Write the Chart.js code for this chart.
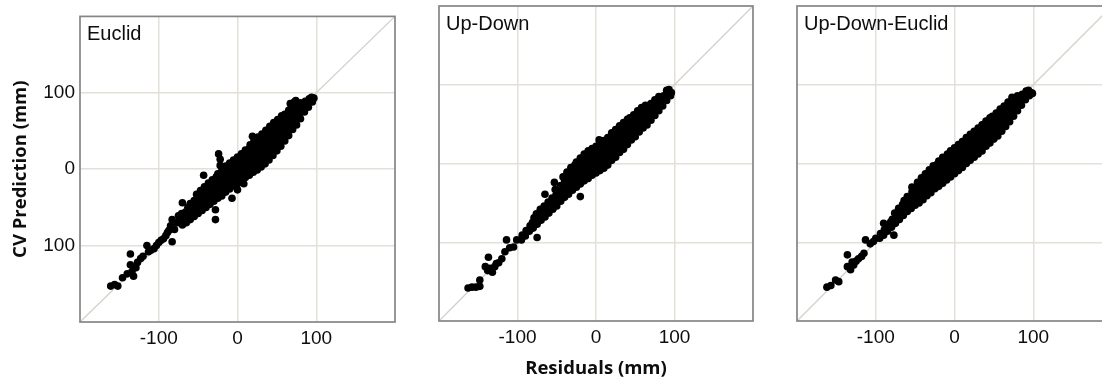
<!DOCTYPE html>
<html>
<head>
<meta charset="utf-8">
<script src="https://cdn.jsdelivr.net/npm/chart.js@4.4.1/dist/chart.umd.min.js"></script>
<style>
  html, body { margin: 0; padding: 0; background: #fff; }
  #wrap { position: relative; width: 1102px; height: 387px; overflow: hidden; }
  .panel { position: absolute; top: 0; }
</style>
</head>
<body>
<div id="wrap">
  <canvas id="c1" class="panel" width="400" height="387" style="left:0"></canvas>
  <canvas id="c2" class="panel" width="360" height="387" style="left:400px"></canvas>
  <canvas id="c3" class="panel" width="360" height="387" style="left:760px"></canvas>
</div>
<script>
// Axis range and ticks (mm)
const axisMin = -200;
const axisMax = 200;
const xTickValues = [-100, 0, 100];
const xTickLabels = ['-100', '0', '100'];
const yTickValues = [100, 0, -100];
const yTickLabels = ['100', '0', '100'];

// Identity reference line
const diagX = [-200, 200];
const diagY = [-200, 200];

const panelTitles = ['Euclid', 'Up-Down', 'Up-Down-Euclid'];
const xAxisTitle = 'Residuals (mm)';
const yAxisTitle = 'CV Prediction (mm)';

// Euclid: [residual, CV prediction]
const euclidPts = [
  [-161,-153],[-156,-151],[-152,-153],[-146,-142],[-140,-137],[-136,-111],[-136,-125],[-134,-134],
  [-132,-140],[-129,-129],[-127,-122],[-123,-117],[-120,-114],[-115,-100],[-113,-108],[-110,-106],
  [-106,-104],[-103,-100],[-100,-96],[-97,-93],[-94,-91],[-91,-87],[-89,-83],[-87,-80],[-85,-74],
  [-83,-66],[-83,-95],[-80,-79],[-77,-70],[-75,-61],[-73,-67],[-70,-44],
  [-70,-73],[-69,-66],[-71,-58],
  [-65,-70],[-64,-63],[-66,-56],[-63,-50],
  [-60,-66],[-61,-59],[-59,-52],[-60,-45],
  [-55,-62],[-56,-55],[-54,-48],[-55,-41],
  [-50,-58],[-51,-51],[-49,-44],[-50,-37],[-52,-33],
  [-45,-54],[-46,-47],[-44,-40],[-45,-33],[-47,-28],[-43,-8],
  [-40,-50],[-41,-43],[-39,-36],[-40,-29],[-42,-23],
  [-35,-46],[-36,-39],[-34,-32],[-35,-25],[-37,-18],
  [-30,-42],[-31,-35],[-29,-28],[-30,-21],[-32,-14],[-28,-53],[-28,-66],
  [-25,-38],[-26,-31],[-24,-24],[-25,-17],[-27,-10],[-25,-6],[-24,20],[-22,13],[-22,5],
  [-20,-35],[-21,-28],[-19,-21],[-20,-14],[-22,-7],[-20,-2],
  [-15,-30],[-16,-23],[-14,-16],[-15,-9],[-17,-2],[-15,4],
  [-10,-26],[-11,-19],[-9,-12],[-10,-5],[-12,2],[-10,8],
  [-5,-22],[-6,-15],[-4,-8],[-5,-1],[-7,6],[-5,12],[-7,-38],
  [0,-19],[-1,-12],[1,-5],[0,2],[-2,9],[0,16],[0,-27],
  [5,-15],[4,-8],[6,-1],[5,6],[3,13],[5,20],[8,-19],
  [10,-11],[9,-4],[11,3],[10,10],[8,17],[10,25],
  [15,-8],[14,-1],[16,6],[15,13],[13,20],[15,27],[16,32],
  [20,-4],[19,3],[21,10],[20,17],[18,24],[20,31],[21,38],[19,43],
  [25,-1],[24,6],[26,13],[25,20],[23,27],[25,34],[26,42],
  [30,3],[29,10],[31,17],[30,24],[28,31],[30,38],[31,46],
  [35,7],[34,14],[36,21],[35,28],[33,35],[35,42],[36,51],
  [40,12],[39,19],[41,26],[40,33],[38,40],[40,47],[41,56],
  [45,18],[44,25],[46,32],[45,39],[43,46],[45,53],[46,61],
  [50,24],[49,31],[51,38],[50,45],[48,52],[50,59],[51,65],
  [55,30],[54,37],[56,44],[55,51],[53,58],[55,65],[56,70],
  [60,37],[59,44],[61,51],[60,58],[58,65],[60,72],
  [65,44],[64,51],[66,58],[65,65],[63,72],[65,77],[67,86],
  [70,52],[69,59],[71,66],[70,73],[68,80],[72,88],[74,90],
  [75,58],[74,65],[76,72],[75,79],[73,85],
  [80,66],[79,73],[81,80],[80,87],
  [85,75],[84,82],[86,89],
  [90,81],[89,87],[91,92],
  [95,88],[97,93],[94,94]
];

// Up-Down: [residual, CV prediction]
const upDownPts = [
  [-163,-158],[-158,-157],[-153,-157],[-148,-156],[-148,-148],[-137,-119],[-141,-131],[-138,-136],
  [-135,-133],[-132,-138],[-129,-131],[-127,-127],[-124,-126],[-120,-121],[-116,-112],[-114,-97],
  [-110,-107],[-105,-106],[-101,-97],[-75,-94],
  [-95,-97],[-94,-91],
  [-90,-92],[-89,-85],
  [-85,-86],[-84,-79],
  [-80,-82],[-81,-75],[-79,-69],
  [-75,-77],[-74,-70],[-76,-64],
  [-70,-72],[-69,-65],[-71,-58],
  [-65,-68],[-64,-61],[-66,-54],[-65,-39],
  [-60,-63],[-59,-56],[-61,-49],
  [-55,-58],[-54,-51],[-56,-44],
  [-50,-54],[-49,-47],[-51,-40],[-52,-33],[-53,-24],
  [-45,-48],[-44,-41],[-46,-34],[-45,-28],
  [-40,-43],[-39,-36],[-41,-29],[-40,-22],[-42,-17],
  [-35,-39],[-34,-32],[-36,-25],[-35,-18],[-37,-11],
  [-30,-34],[-29,-27],[-31,-20],[-30,-13],[-32,-5],
  [-25,-30],[-24,-23],[-26,-16],[-25,-9],[-27,-2],[-25,2],
  [-20,-26],[-19,-19],[-21,-12],[-20,-5],[-22,2],[-20,7],[-20,-42],
  [-15,-22],[-14,-15],[-16,-8],[-15,-1],[-17,6],[-15,12],
  [-10,-19],[-9,-12],[-11,-5],[-10,2],[-12,9],[-10,16],
  [-5,-15],[-4,-8],[-6,-1],[-5,6],[-7,13],[-5,19],
  [0,-12],[1,-5],[-1,2],[0,9],[2,16],[0,22],[4,30],
  [5,-9],[4,-2],[6,5],[5,12],[3,19],[5,26],
  [10,-6],[9,1],[11,8],[10,15],[8,22],[10,29],
  [15,-2],[14,5],[16,12],[15,19],[13,26],[15,33],
  [20,4],[19,11],[21,18],[20,25],[18,32],[20,39],
  [25,8],[24,15],[26,22],[25,29],[23,36],[25,43],
  [30,14],[29,21],[31,28],[30,35],[28,42],[30,48],
  [35,18],[34,25],[36,32],[35,39],[33,46],[35,52],
  [40,24],[39,31],[41,38],[40,45],[38,52],[40,56],
  [45,30],[44,37],[46,44],[45,51],[43,58],
  [50,34],[49,41],[51,48],[50,55],[48,62],
  [55,40],[54,47],[56,54],[55,61],[53,67],
  [60,45],[59,52],[61,59],[60,66],[58,71],
  [65,49],[64,56],[66,63],[65,70],[63,74],
  [70,55],[69,62],[71,69],[70,76],
  [75,61],[74,68],[76,75],[75,81],
  [80,67],[79,74],[81,80],[80,85],
  [85,73],[84,80],[86,86],
  [90,80],[89,86],[90,93],
  [95,86],[96,90],[93,94]
];

// Up-Down-Euclid: [residual, CV prediction]
const upDownEuclidPts = [
  [-162,-157],[-157,-155],[-151,-148],[-147,-150],[-136,-116],[-136,-131],[-132,-135],[-130,-125],
  [-128,-129],[-125,-124],[-122,-121],[-118,-118],[-115,-114],[-113,-97],[-107,-102],[-103,-99],
  [-100,-95],[-77,-91],
  [-95,-95],[-94,-89],
  [-90,-91],[-89,-84],[-90,-76],
  [-85,-86],[-84,-79],
  [-80,-81],[-81,-74],[-79,-71],
  [-75,-76],[-74,-69],[-76,-63],
  [-70,-71],[-69,-64],[-71,-57],
  [-65,-66],[-64,-59],[-66,-52],[-64,-47],
  [-60,-61],[-59,-54],[-61,-47],[-60,-42],
  [-55,-57],[-54,-50],[-56,-43],[-54,-36],[-54,-30],
  [-50,-53],[-49,-46],[-51,-39],[-50,-32],
  [-45,-50],[-44,-43],[-46,-36],[-45,-29],[-47,-24],
  [-40,-46],[-39,-39],[-41,-32],[-40,-25],[-42,-18],
  [-35,-41],[-34,-34],[-36,-27],[-35,-20],[-37,-13],
  [-30,-37],[-29,-30],[-31,-23],[-30,-16],[-32,-8],
  [-25,-32],[-24,-25],[-26,-18],[-25,-11],[-27,-3],
  [-20,-29],[-19,-22],[-21,-15],[-20,-8],[-22,-1],[-20,3],
  [-15,-25],[-14,-18],[-16,-11],[-15,-4],[-17,3],[-15,8],
  [-10,-21],[-9,-14],[-11,-7],[-10,0],[-12,7],[-9,12],
  [-5,-17],[-4,-10],[-6,-3],[-5,4],[-7,11],[-5,16],
  [0,-13],[1,-6],[-1,1],[0,8],[2,15],[0,20],
  [5,-9],[4,-2],[6,5],[5,12],[3,19],[5,24],
  [10,-5],[9,2],[11,9],[10,16],[8,23],[10,28],
  [15,0],[14,7],[16,14],[15,21],[13,28],[15,33],
  [20,4],[19,11],[21,18],[20,25],[18,32],[20,37],
  [25,8],[24,15],[26,22],[25,29],[23,36],[25,41],
  [30,12],[29,19],[31,26],[30,33],[28,40],[30,45],
  [35,16],[34,23],[36,30],[35,37],[33,44],[35,49],
  [40,22],[39,29],[41,36],[40,43],[38,50],[40,54],
  [45,26],[44,33],[46,40],[45,47],[43,54],[45,58],
  [50,31],[49,38],[51,45],[50,52],[48,60],
  [55,35],[54,42],[56,49],[55,56],[53,64],
  [60,41],[59,48],[61,55],[60,62],[58,69],
  [65,47],[64,54],[66,61],[65,68],[63,73],
  [70,53],[69,60],[71,67],[70,74],[68,78],
  [75,60],[74,67],[76,74],[75,81],[73,84],
  [80,67],[79,74],[81,81],[80,86],
  [85,74],[84,81],[86,88],
  [90,81],[89,87],[91,92],
  [95,86],[97,90],[94,93],[99,89]
];

const GRID = '#e3e0da';
const FRAME = '#858585';
const DIAG = '#d5d1ca';
const TEXT = '#0d0d0d';
const tickFont = { family: 'Liberation Sans', size: 19 };
const titleFont = { family: 'Open Sans', weight: 'bold', size: 18.5 };

// Frame round the plot area and the panel name in its top-left corner
const framePlugin = {
  id: 'frame',
  afterDatasetsDraw(chart, args, opts) {
    const { ctx, chartArea: a } = chart;
    ctx.save();
    ctx.strokeStyle = FRAME;
    ctx.lineWidth = 1.7;
    ctx.strokeRect(a.left, a.top, a.right - a.left, a.bottom - a.top);
    ctx.fillStyle = TEXT;
    ctx.font = '20px "Liberation Sans"';
    ctx.textBaseline = 'alphabetic';
    ctx.textAlign = 'left';
    ctx.fillText(opts.text, a.left + 7, a.top + 24);
    ctx.restore();
  }
};

function makePanel(id, pts, name, cfg) {
  new Chart(document.getElementById(id), {
    type: 'scatter',
    data: {
      datasets: [
        {
          data: pts.map(([x, y]) => ({ x, y })),
          pointRadius: 3.8,
          pointBackgroundColor: '#000',
          pointBorderWidth: 0,
          order: 0
        },
        {
          data: diagX.map((x, i) => ({ x, y: diagY[i] })),
          showLine: true,
          borderColor: DIAG,
          borderWidth: 1.3,
          pointRadius: 0,
          order: 1
        }
      ]
    },
    options: {
      responsive: false,
      animation: false,
      events: [],
      layout: { padding: { left: 0, top: cfg.top, right: cfg.right, bottom: 0 } },
      plugins: {
        legend: { display: false },
        tooltip: { enabled: false },
        frame: { text: name }
      },
      scales: {
        x: {
          type: 'linear', min: axisMin, max: axisMax,
          afterBuildTicks: s => { s.ticks = xTickValues.map(v => ({ value: v })); },
          afterFit: s => { s.height = cfg.xh; },
          grid: { color: GRID, lineWidth: 1.5, drawTicks: false },
          border: { display: false },
          ticks: {
            padding: 5, font: tickFont, color: TEXT, maxRotation: 0,
            callback: v => xTickLabels[xTickValues.indexOf(v)]
          },
          title: {
            display: !!cfg.xTitle, text: xAxisTitle, font: titleFont, color: TEXT,
            padding: { top: 0, bottom: 7 }
          }
        },
        y: {
          type: 'linear', min: axisMin, max: axisMax,
          afterBuildTicks: s => { s.ticks = yTickValues.map(v => ({ value: v })); },
          afterFit: s => { s.width = cfg.yw; },
          grid: { color: GRID, lineWidth: 1.5, drawTicks: false },
          border: { display: false },
          ticks: {
            display: !!cfg.yTicks, padding: 5, font: tickFont, color: TEXT,
            callback: v => yTickLabels[yTickValues.indexOf(v)]
          },
          title: {
            display: !!cfg.yTitle, text: yAxisTitle, font: titleFont, color: TEXT,
            padding: { top: 10, bottom: 0 }
          }
        }
      }
    },
    plugins: [framePlugin]
  });
}

makePanel('c1', euclidPts, panelTitles[0], { top: 8, right: 5, xh: 65, yw: 80, yTicks: true, yTitle: true });
makePanel('c2', upDownPts, panelTitles[1], { top: 6, right: 7, xh: 66, yw: 39, xTitle: true });
makePanel('c3', upDownEuclidPts, panelTitles[2], { top: 6, right: 8, xh: 66, yw: 37 });
</script>
</body>
</html>
